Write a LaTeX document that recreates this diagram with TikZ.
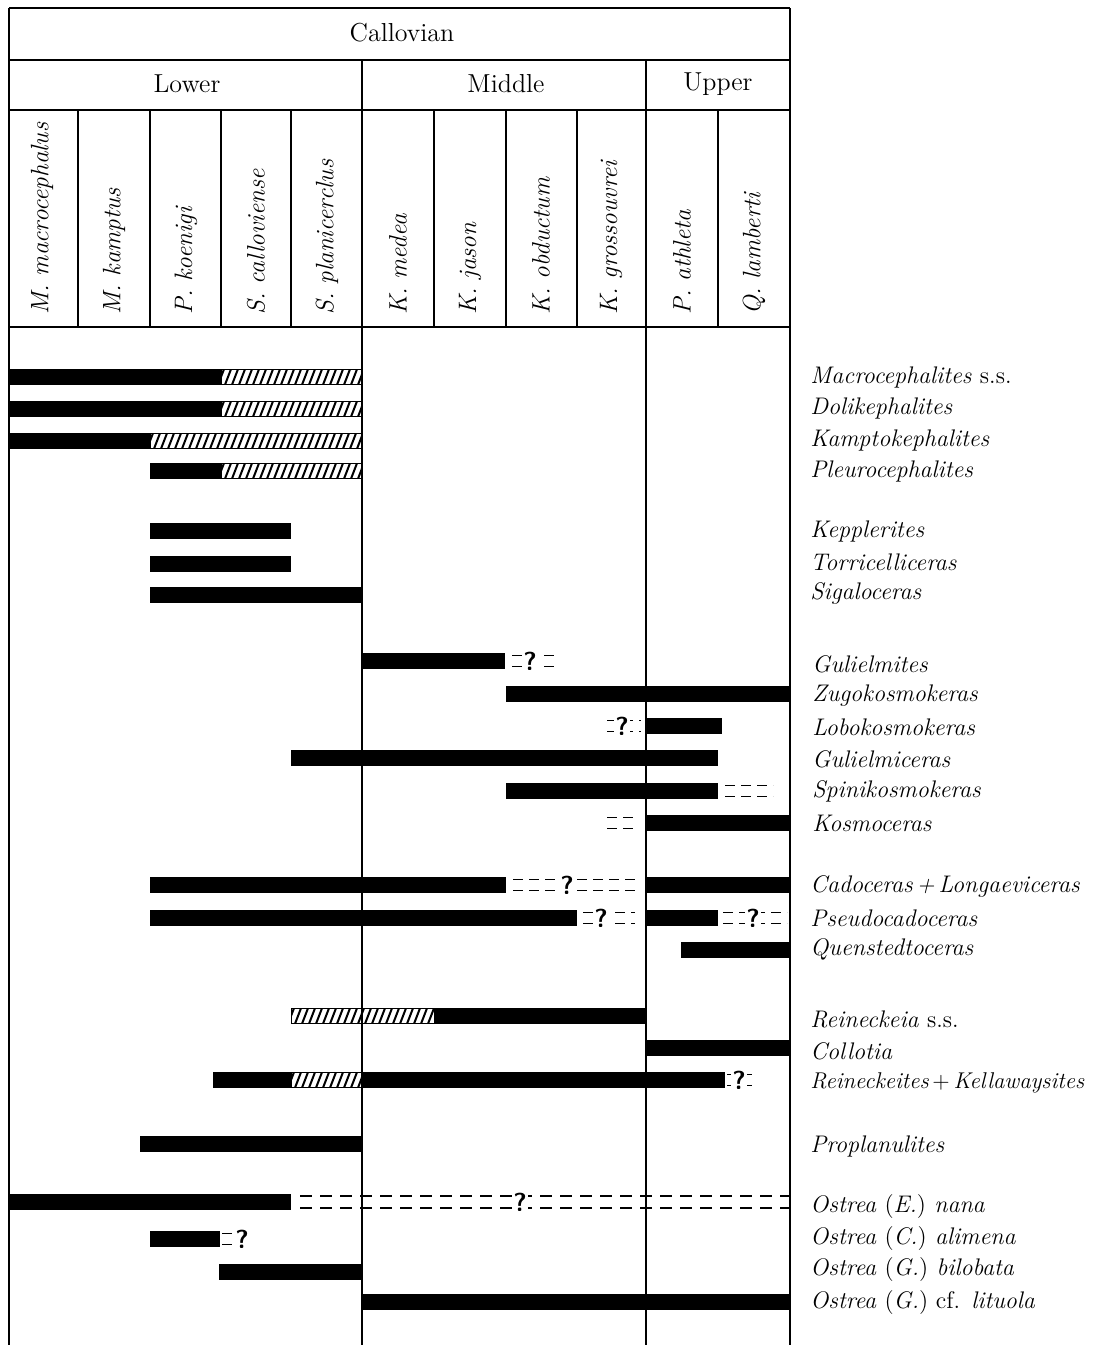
\documentclass[tikz,border=0pt]{standalone}
\usepackage{tikz}
\usetikzlibrary{positioning}
\newcommand{\rangebar}[3]{\fill (#1,#3-7.8) rectangle (#2,#3+7.8);}
\newcommand{\hatchbar}[3]{%
  \begin{scope}
    \clip (#1,#3-7.8) rectangle (#2,#3+7.8);
    \foreach \k in {0,...,32} \draw[line width=1pt] (#1+7*\k-3,#3+7.8) -- (#1+7*\k+3,#3-7.8);
  \end{scope}
  \draw[line width=0.5pt] (#1,#3-7.8) rectangle (#2,#3+7.8);}
\newcommand{\dashpair}[3]{%
  \draw[qdash] (#1,#3-5.5) -- (#2,#3-5.5);
  \draw[qdash] (#1,#3+5.5) -- (#2,#3+5.5);}

\begin{document}
\begin{tikzpicture}[
  x=0.5pt, y=-0.5pt,
  font=\fontsize{13}{15}\selectfont,
  rule/.style={line width=0.75pt},
  zone/.style={rotate=90, anchor=west, inner sep=0pt, font=\fontsize{12.6}{14}\selectfont\itshape},
  genus/.style={anchor=west, inner sep=0pt, font=\fontsize{12}{14}\selectfont\itshape},
  qdash/.style={line width=0.9pt, dash pattern=on 5pt off 3pt},
  longdash/.style={line width=0.9pt, dash pattern=on 6pt off 4pt},
  qmark/.style={fill=white, inner sep=0.6pt, font=\fontsize{13}{15}\selectfont\sffamily\bfseries},
]
  \useasboundingbox (0,0) rectangle (1100,1345);
  % table frame
  \draw[rule] (9,8) -- (790,8);
  \draw[rule] (9,60) -- (790,60);
  \draw[rule] (9,110) -- (790,110);
  \draw[rule] (9,327) -- (790,327);
  \draw[rule] (9,8) -- (9,1345);
  \draw[rule] (790,8) -- (790,1345);
  \draw[rule] (362,60) -- (362,1345);
  \draw[rule] (646,60) -- (646,1345);
  \foreach \x in {78,150,221,291,434,506,577,718}
    \draw[rule] (\x,110) -- (\x,327);
  % stage + substages
  \node (callovian) at (402,33) {Callovian};
  \node (lower)  at (187,84) {Lower};
  \node (middle) at (506,84) {Middle};
  \node (upper)  at (718,84) {Upper};
  % zones
  \node[zone] (zmacro)  at (42,315)  {M. macrocephalus};
  \node[zone] (zkamp)   at (114,315) {M. kamptus};
  \node[zone] (zkoen)   at (186,315) {P. koenigi};
  \node[zone] (zcall)   at (256,315) {S. calloviense};
  \node[zone] (zplan)   at (327,315) {S. planicerclus};
  \node[zone] (zmedea)  at (398,315) {K. medea};
  \node[zone] (zjason)  at (470,315) {K. jason};
  \node[zone] (zobd)    at (541,315) {K. obductum};
  \node[zone] (zgross)  at (611,315) {K. grossouvrei};
  \node[zone] (zathl)   at (682,315) {P. athleta};
  \node[zone] (zlamb)   at (754,315) {Q. lamberti};
  % macrocephalitids
  \rangebar{9}{221}{377} \hatchbar{221}{362}{377}
  \rangebar{9}{221}{409} \hatchbar{221}{362}{409}
  \rangebar{9}{150}{441} \hatchbar{150}{362}{441}
  \rangebar{150}{221}{471} \hatchbar{221}{362}{471}
  \rangebar{150}{291}{531}
  \rangebar{150}{291}{564}
  \rangebar{150}{362}{595}
  % kosmoceratids
  \rangebar{362}{505}{661} \dashpair{512}{558}{661}
  \node[qmark] (q1) at (530,661) {?};
  \rangebar{506}{790}{694}
  \dashpair{607}{641}{726} \rangebar{646}{722}{726}
  \node[qmark] (q2) at (622,726) {?};
  \rangebar{291}{718}{758}
  \rangebar{506}{718}{791} \dashpair{725}{773}{791}
  \dashpair{607}{637}{823} \rangebar{646}{790}{823}
  % cardioceratids
  \rangebar{150}{506}{885} \dashpair{513}{635}{885} \rangebar{646}{790}{885}
  \node[qmark] (q3) at (567,885) {?};
  \rangebar{150}{577}{918} \dashpair{583}{635}{918} \rangebar{646}{718}{918}
  \dashpair{723}{787}{918}
  \node[qmark] (q4) at (601,918) {?};
  \node[qmark] (q5) at (753,918) {?};
  \rangebar{681}{790}{950}
  % reineckeiids
  \hatchbar{291}{434}{1016} \rangebar{434}{645}{1016}
  \rangebar{646}{790}{1048}
  \rangebar{213}{291}{1080} \hatchbar{291}{362}{1080} \rangebar{362}{725}{1080}
  \dashpair{727}{752}{1080}
  \node[qmark] (q6) at (739,1080) {?};
  \rangebar{140}{362}{1144}
  % ostreids
  \rangebar{9}{291}{1202}
  \draw[longdash] (300,1196) -- (790,1196);
  \draw[longdash] (300,1208) -- (790,1208);
  \node[qmark] (q7) at (520,1202) {?};
  \rangebar{150}{220}{1239} \dashpair{222}{233}{1239}
  \node[qmark, fill=none] (q8) at (242,1239) {?};
  \rangebar{219}{362}{1272}
  \rangebar{362}{790}{1302}
  % genus names
  \node[genus] (macro)  at (810,377) {Macrocephalites \upshape s.s.};
  \node[genus] (doli)   at (810,408) {Dolikephalites};
  \node[genus] (kampto) at (810,440) {Kamptokephalites};
  \node[genus] (pleuro) at (810,471) {Pleurocephalites};
  \node[genus] (kepp)   at (810,531) {Kepplerites};
  \node[genus] (torri)  at (810,562) {Torricelliceras};
  \node[genus] (sigal)  at (810,593) {Sigaloceras};
  \node[genus] (gmites) at (812,664) {Gulielmites};
  \node[genus] (zugo)   at (812,696) {Zugokosmokeras};
  \node[genus] (lobo)   at (812,727) {Lobokosmokeras};
  \node[genus] (gceras) at (812,759) {Gulielmiceras};
  \node[genus] (spini)  at (812,791) {Spinikosmokeras};
  \node[genus] (kosmo)  at (812,823) {Kosmoceras};
  \node[genus] (cado)   at (810,886) {Cadoceras\,+\,Longaeviceras};
  \node[genus] (pseudo) at (810,918) {Pseudocadoceras};
  \node[genus] (quen)   at (810,949) {Quenstedtoceras};
  \node[genus] (reinia) at (810,1019) {Reineckeia \upshape s.s.};
  \node[genus] (collo)  at (810,1051) {Collotia};
  \node[genus, font=\fontsize{11.4}{14}\selectfont\itshape] (reinit) at (810,1083)
    {Reineckeites\,{\upshape +}\,Kellawaysites};
  \node[genus] (propl)  at (810,1146) {Proplanulites};
  \node[genus] (nana)   at (810,1206) {Ostrea {\upshape(}E.{\upshape)} nana};
  \node[genus] (alim)   at (810,1238) {Ostrea {\upshape(}C.{\upshape)} alimena};
  \node[genus] (bilo)   at (810,1269) {Ostrea {\upshape(}G.{\upshape)} bilobata};
  \node[genus] (litu)   at (810,1302) {Ostrea {\upshape(}G.{\upshape) cf.} lituola};
\end{tikzpicture}
\end{document}
